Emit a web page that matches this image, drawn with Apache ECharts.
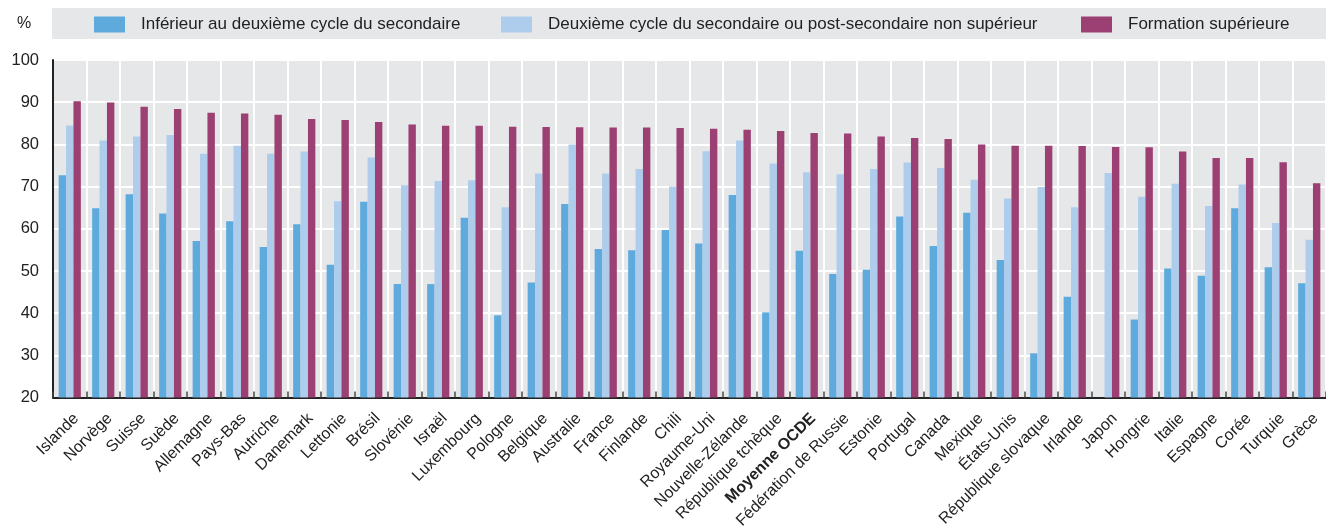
<!DOCTYPE html>
<html><head><meta charset="utf-8">
<script src="https://cdn.jsdelivr.net/npm/echarts@6/dist/echarts.min.js"></script>
<style>html,body{margin:0;padding:0;background:#fff}#c{width:1326px;height:532px}</style>
</head><body><div id="c"></div>
<script>
const categories = ["Islande","Norvège","Suisse","Suède","Allemagne","Pays-Bas","Autriche","Danemark","Lettonie","Brésil","Slovénie","Israël","Luxembourg","Pologne","Belgique","Australie","France","Finlande","Chili","Royaume-Uni","Nouvelle-Zélande","République tchèque","Moyenne OCDE","Fédération de Russie","Estonie","Portugal","Canada","Mexique","États-Unis","République slovaque","Irlande","Japon","Hongrie","Italie","Espagne","Corée","Turquie","Grèce"];
const seriesNames = ["Inférieur au deuxième cycle du secondaire","Deuxième cycle du secondaire ou post-secondaire non supérieur","Formation supérieure"];
const belowUpperSecondary = [72.7,64.9,68.2,63.6,57.1,61.8,55.7,61.1,51.5,66.4,46.9,46.9,62.6,39.5,47.3,65.9,55.2,54.9,59.7,56.5,68.0,40.2,54.8,49.3,50.3,62.9,55.9,63.8,52.6,30.5,43.9,null,38.5,50.6,48.9,64.9,50.9,47.1];
const upperSecondary = [84.5,80.9,81.9,82.2,77.8,79.7,77.8,78.3,66.5,76.9,70.3,71.3,71.5,65.1,73.1,80.0,73.1,74.2,70.0,78.4,80.9,75.5,73.4,72.9,74.2,75.7,74.4,71.6,67.2,69.9,65.1,73.2,67.6,70.7,65.4,70.5,61.4,57.4];
const tertiary = [90.25,89.9,88.9,88.4,87.5,87.3,87.0,86.0,85.8,85.3,84.7,84.4,84.4,84.2,84.1,84.05,84.0,84.0,83.9,83.7,83.5,83.2,82.7,82.6,81.9,81.5,81.3,80.0,79.7,79.7,79.65,79.4,79.3,78.3,76.75,76.75,75.8,70.8];
const yTicks = {min:20, max:100, interval:10};
const colors = ["#5eaadd","#aecdec","#9c3f72"];
const FONT = "'Liberation Sans',Arial,sans-serif";

const chart = echarts.init(document.getElementById('c'));
const dataSets = [belowUpperSecondary, upperSecondary, tertiary];
const legendLefts = [94, 501, 1081];
chart.setOption({
  animation:false,
  textStyle:{fontFamily:FONT},
  graphic:[
    {type:'rect', shape:{x:52,y:8,width:1280,height:31}, style:{fill:'#e6e7e9'}, z:-1},
    {type:'text', left:17, top:16, style:{text:'%', font:"16px "+FONT, fill:'#222'}}
  ],
  legend: seriesNames.map((n,i)=>({
    data:[n], left:legendLefts[i], top:16, itemWidth:31, itemHeight:16, itemGap:10,
    icon:'rect', padding:0,
    textStyle:{fontSize:17, color:'#222', fontFamily:FONT, padding:[0,0,0,11]}
  })),
  grid:{left:53, top:60, width:1279.5, height:338, show:true, backgroundColor:'#e6e7e9', borderWidth:0},
  xAxis:{
    type:'category', data:categories,
    axisLine:{lineStyle:{color:'#222', width:2}},
    axisTick:{show:true, inside:true, length:6, lineStyle:{color:'#444', width:1.5}},
    splitLine:{show:true, lineStyle:{color:'#ffffff', width:2}},
    axisLabel:{rotate:45, fontSize:16, color:'#222', margin:12, interval:0,
      verticalAlign:'top', lineHeight:18,
      formatter:(v)=> v==='Moyenne OCDE' ? '{b|'+v+'}' : v,
      rich:{b:{fontWeight:'bold', fontSize:16, lineHeight:18, color:'#222', fontFamily:FONT}}}
  },
  yAxis:{
    type:'value', min:yTicks.min, max:yTicks.max, interval:yTicks.interval,
    axisLine:{show:true, lineStyle:{color:'#222', width:2}},
    axisTick:{show:false},
    splitLine:{show:true, lineStyle:{color:'#ffffff', width:2}},
    axisLabel:{fontSize:16.5, color:'#222', margin:14}
  },
  series: seriesNames.map((n,i)=>({
    name:n, type:'bar', data:dataSets[i], barWidth:7.4, barGap:'0%',
    itemStyle:{color:colors[i]}
  }))
});
</script></body></html>
